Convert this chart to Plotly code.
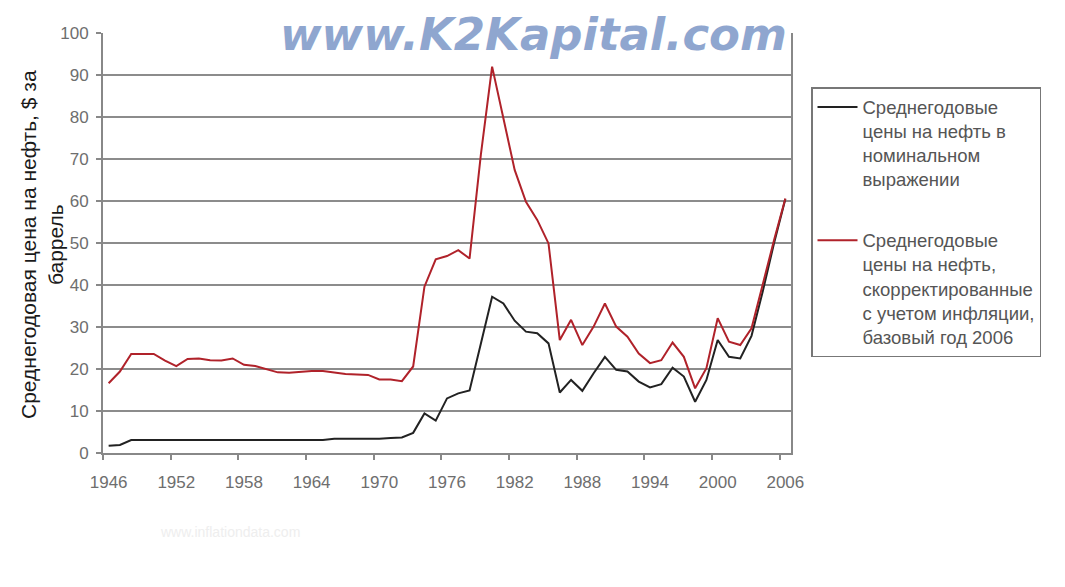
import plotly.graph_objects as go

years = list(range(1946, 2007))

nominal = [1.7, 1.9, 3.1, 3.1, 3.1, 3.1, 3.1, 3.1, 3.1, 3.1,
           3.1, 3.1, 3.1, 3.1, 3.1, 3.1, 3.1, 3.1, 3.1, 3.1,
           3.4, 3.4, 3.4, 3.4, 3.4, 3.6, 3.7, 4.8, 9.4, 7.7,
           13.0, 14.2, 14.9, 26.0, 37.2, 35.6, 31.5, 28.9, 28.5, 26.1,
           14.4, 17.4, 14.8, 19.0, 22.9, 19.8, 19.4, 17.0, 15.6, 16.4,
           20.3, 18.2, 12.2, 17.4, 26.9, 22.9, 22.5, 27.9, 38.5, 50.0,
           60.5]

adjusted = [16.6, 19.4, 23.6, 23.6, 23.6, 22.0, 20.7, 22.4, 22.5, 22.1,
            22.0, 22.5, 21.0, 20.7, 19.9, 19.2, 19.1, 19.3, 19.5, 19.5,
            19.1, 18.8, 18.7, 18.6, 17.5, 17.5, 17.1, 20.6, 39.6, 46.1,
            46.9, 48.3, 46.3, 71.0, 92.0, 79.3, 67.4, 59.8, 55.5, 49.9,
            26.9, 31.7, 25.7, 30.1, 35.6, 30.1, 27.7, 23.7, 21.4, 22.1,
            26.3, 22.9, 15.4, 20.2, 32.1, 26.5, 25.7, 29.7, 40.4, 50.7,
            60.6]

tick_years = [1946, 1952, 1958, 1964, 1970, 1976, 1982, 1988, 1994, 2000, 2006]
tick_marks = [1945.5, 1951.5, 1957.5, 1963.5, 1969.5, 1975.5, 1981.5,
              1987.5, 1993.5, 1999.5, 2005.5]
y_ticks = [0, 10, 20, 30, 40, 50, 60, 70, 80, 90, 100]

name_nominal = "Среднегодовые<br>цены на нефть в<br>номинальном<br>выражении"
name_adjusted = ("Среднегодовые<br>цены на нефть,<br>скорректированные<br>"
                 "с учетом инфляции,<br>базовый год 2006")
y_title = "Среднегодовая цена на нефть, $ за<br>баррель"
watermark = "www.K2Kapital.com"
source = "www.inflationdata.com"

fig = go.Figure()
fig.add_trace(go.Scatter(x=years, y=nominal, mode="lines", name=name_nominal,
                         legendgroup="a",
                         line=dict(color="#222222", width=2)))
fig.add_trace(go.Scatter(x=years, y=adjusted, mode="lines", name=name_adjusted,
                         legendgroup="b",
                         line=dict(color="#b0222a", width=2)))
# invisible trace so the label axis (x2) is rendered
fig.add_trace(go.Scatter(x=years, y=nominal, mode="lines", xaxis="x2",
                         showlegend=False, hoverinfo="skip", opacity=0,
                         line=dict(width=0)))

W, H = 1065, 587
OFF = 8  # page body margin
L, R, T, B = 103, 791, 33, 453  # plot area in reference pixels
PW, PH = R - L, B - T


def px(x):
    return (x - L) / PW


def py(y):
    return (B - y) / PH


fig.update_layout(
    width=W, height=H,
    margin=dict(l=L - OFF, r=W - (L - OFF) - PW, t=T - OFF, b=H - (T - OFF) - PH,
                pad=0, autoexpand=False),
    paper_bgcolor="white", plot_bgcolor="white",
    font=dict(family="Liberation Sans, Arial, sans-serif", color="#555555"),
    showlegend=True,
    legend=dict(
        x=px(811), y=py(87),
        xanchor="left", yanchor="top",
        bordercolor="#777777", borderwidth=1.5,
        bgcolor="white",
        font=dict(size=18.5, color="#555555"),
        valign="top", tracegroupgap=34,
        itemwidth=40,
    ),
    xaxis=dict(
        range=[1945.5, 2006.5],
        tickmode="array", tickvals=tick_marks,
        ticktext=[""] * len(tick_marks),
        ticks="outside", ticklen=5, tickcolor="#888888", tickwidth=1.5,
        showgrid=False, zeroline=False,
        showline=True, linecolor="#888888", linewidth=2,
    ),
    # axis carrying the year labels (no tick marks)
    xaxis2=dict(
        overlaying="x", anchor="y", side="bottom",
        range=[1945.5, 2006.5],
        tickmode="array", tickvals=tick_years,
        ticktext=[str(t) for t in tick_years],
        ticks="", ticklabelstandoff=17,
        tickfont=dict(size=17, color="#6e6e6e"),
        showgrid=False, zeroline=False, showline=False,
    ),
    yaxis=dict(
        range=[0, 100],
        tickmode="array", tickvals=y_ticks,
        ticks="outside", ticklen=5, tickcolor="#888888", tickwidth=1.5,
        tickfont=dict(size=17, color="#6e6e6e"),
        ticklabelstandoff=4,
        showgrid=True, gridcolor="#8c8c8c", gridwidth=1.5,
        zeroline=False,
        showline=True, linecolor="#888888", linewidth=2, mirror=True,
    ),
)

fig.add_annotation(
    text=y_title, textangle=-90, showarrow=False,
    xref="paper", yref="paper",
    x=px(42), y=py(245),
    xanchor="center", yanchor="middle",
    font=dict(size=21, color="#1a1a1a"),
)
fig.add_annotation(
    text="<b><i>" + watermark + "</i></b>", showarrow=False,
    xref="paper", yref="paper",
    x=px(533), y=py(35),
    xanchor="center", yanchor="middle",
    font=dict(size=45, color="#8fa6cf", family="DejaVu Sans, Arial, sans-serif"),
)
fig.add_annotation(
    text=source, showarrow=False,
    xref="paper", yref="paper",
    x=px(230), y=py(532),
    xanchor="center", yanchor="middle",
    font=dict(size=14, color="#eeeeee"),
)
fig.add_shape(type="line", xref="paper", yref="paper",
              x0=px(3), x1=px(3), y0=py(0), y1=py(H + 10),
              line=dict(color="#cccccc", width=2))

fig.write_html("out.html")
